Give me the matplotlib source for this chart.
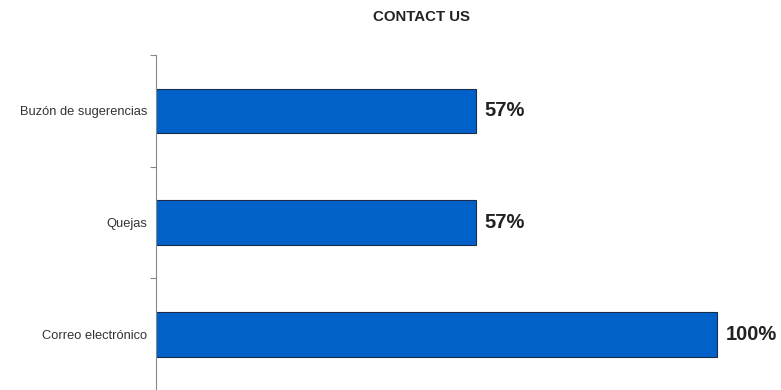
import numpy as np
import matplotlib.pyplot as plt

categorias = ['Correo electrónico', 'Quejas', 'Buzón de sugerencias']
porcentajes = [100, 57, 57]
etiquetas = ['100%', '57%', '57%']

plt.rcParams['font.family'] = ['Liberation Sans', 'DejaVu Sans']

fig = plt.figure(figsize=(7.81, 3.90), dpi=100)
ax = fig.add_axes([156/781., 0.0, (781-156)/781., (390-55)/390.])

y = np.arange(len(categorias))
ax.barh(y, porcentajes, height=0.4, color='#0062C8', edgecolor='#1c2c4c', linewidth=0.8)
for yi, v, txt in zip(y, porcentajes, etiquetas):
    ax.text(v + 1.6, yi, txt, va='center', ha='left', fontsize=14.5, fontweight='bold', color='#222222')

ax.set_xlim(0, (781-156)/5.607)
ax.set_ylim(-0.5, 2.5)
ax.set_yticks(y)
ax.set_yticklabels(categorias, fontsize=9.3, color='#333333')
ax.set_yticks([-0.5, 0.5, 1.5, 2.5], minor=True)
ax.tick_params(axis='y', which='major', length=0, pad=6.5)
ax.tick_params(axis='y', which='minor', length=4, color='#888888', width=0.8)
ax.set_xticks([])
for s in ['top', 'right', 'bottom']:
    ax.spines[s].set_visible(False)
ax.spines['left'].set_color('#888888')
ax.spines['left'].set_linewidth(0.8)

fig.text(421/781., 1 - 17/390., 'CONTACT US', ha='center', va='center', fontsize=10.8, fontweight='bold', color='#222222')

fig.savefig('out.png', dpi=100)
